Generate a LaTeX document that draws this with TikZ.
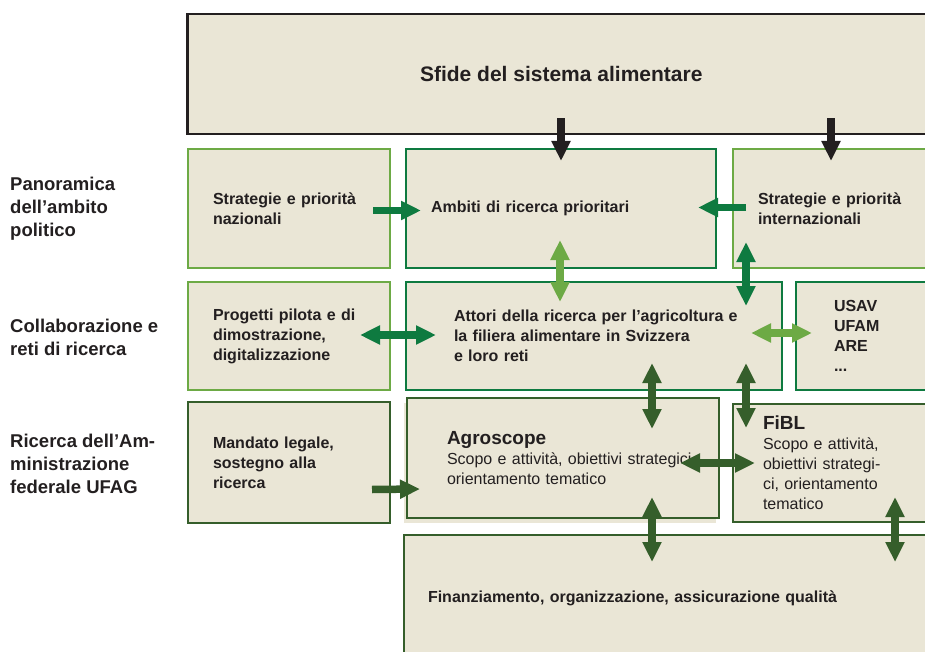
\documentclass[tikz,border=0pt]{standalone}
\usepackage{fontspec}
\setmainfont{Liberation Sans}
\usepackage{xcolor}
\usepackage{tikz}
\usetikzlibrary{arrows.meta, positioning, calc, shadows}

\definecolor{boxfill}{HTML}{EAE6D6}
\definecolor{ink}{HTML}{231F20}
\definecolor{lightgreen}{HTML}{6DAA45}
\definecolor{darkgreen}{HTML}{0E7A40}
\definecolor{olive}{HTML}{355E2B}

\begin{document}
\begin{tikzpicture}[x=1pt, y=-1pt,
    panel/.style={rectangle, draw=#1, line width=2pt, fill=boxfill, text=ink, align=left, inner ysep=0pt, font=\bfseries\fontsize{16}{20}\selectfont},
    panel/.default=darkgreen,
    lane/.style={anchor=west, align=left, inner sep=0pt, text=ink, font=\bfseries\fontsize{18.5}{23}\selectfont},
    arrow/.style={draw=#1, line width=7.5pt, -{Triangle[length=20pt, width=18pt]}},
    twoway/.style={draw=#1, line width=7.5pt, {Triangle[length=20pt, width=18pt]}-{Triangle[length=20pt, width=18pt]}}
]
    \useasboundingbox (0,0) rectangle (925,652);
    \clip (0,0) rectangle (925,652);

    % Row labels
    \node[lane] (politica) at (10,209) {Panoramica\\dell’ambito\\politico};
    \node[lane] (reti) at (10,337) {Collaborazione e\\reti di ricerca};
    \node[lane] (ufag) at (10,464) {Ricerca dell’Am-\\ministrazione\\federale UFAG};

    % Boxes
    \node[panel=ink, anchor=north west, line width=2.5pt, minimum width=748pt, minimum height=120pt, align=center, font=\bfseries\fontsize{21}{25}\selectfont] (sfide) at (186,13) {Sfide del sistema alimentare};

    \node[panel=lightgreen, anchor=north west, minimum width=202pt, minimum height=119pt, text width=152pt, inner xsep=25pt] (naz) at (187,148) {Strategie e priorità\\nazionali};
    \node[panel=darkgreen, right=14pt of naz, minimum width=310pt, minimum height=119pt, text width=260pt, inner xsep=25pt] (amb) {Ambiti di ricerca prioritari};
    \node[panel=lightgreen, right=15pt of amb, minimum width=196pt, minimum height=119pt, text width=146pt, inner xsep=25pt] (intl) {Strategie e priorità\\internazionali};

    \node[panel=lightgreen, below=12pt of naz, minimum width=202pt, minimum height=108pt, text width=152pt, inner xsep=25pt] (prog) {Progetti pilota e di\\dimostrazione,\\digitalizzazione};
    \node[panel=darkgreen, right=14pt of prog, minimum width=376pt, minimum height=108pt, text width=280pt, inner xsep=48pt] (attori) {\mbox{Attori della ricerca per l’agricoltura e}\\la filiera alimentare in Svizzera\\e loro reti};
    \node[panel=darkgreen, right=12pt of attori, minimum width=140pt, minimum height=108pt, text width=64pt, inner xsep=38pt] (usav) {USAV\\UFAM\\ARE\\...};

    \node[panel=olive, below=10pt of prog, minimum width=202pt, minimum height=121pt, text width=152pt, inner xsep=25pt] (mand) {Mandato legale,\\sostegno alla\\ricerca};
    \node[panel=olive, anchor=north west, minimum width=312pt, minimum height=120pt, text width=232pt, inner xsep=40pt,
          general shadow={fill=boxfill, draw=none, shadow xshift=-3pt, shadow yshift=-5pt}] (agro) at (406,397)
          {{\fontsize{19}{21}\selectfont Agroscope}\\\mdseries\mbox{Scopo e attività, obiettivi strategici,}\\orientamento tematico};
    \node[panel=olive, anchor=north west, minimum width=203pt, minimum height=118pt, text width=143pt, inner xsep=30pt] (fibl) at (732,403)
          {{\fontsize{19}{21}\selectfont FiBL}\\\mdseries Scopo e attività,\\obiettivi strategi-\\ci, orientamento\\tematico};

    \node[panel=olive, anchor=north west, minimum width=532pt, minimum height=126pt, text width=484pt, inner xsep=24pt] (fin) at (403,534) {Finanziamento, organizzazione, assicurazione qualità};

    % Arrows
    \draw[arrow=ink] ($(sfide.south -| amb.north)+(0,-17)$) -- ($(amb.north)+(0,13)$);
    \draw[arrow=ink] ($(sfide.south -| intl.north)+(0,-17)$) -- ($(intl.north)+(0,13)$);
    \draw[arrow=darkgreen] ($(naz.east)+(-18,2)$) -- ($(amb.west)+(16,2)$);
    \draw[arrow=darkgreen] ($(intl.west)+(14,-1)$) -- ($(amb.east)+(-19,-1)$);
    \draw[twoway=lightgreen] ($(amb.south)+(-1,-29)$) -- ($(attori.north -| amb.south)+(-1,21)$);
    \draw[twoway=darkgreen] ($(intl.south west)+(14,-27)$) -- ($(attori.north -| intl.south west)+(14,25)$);
    \draw[twoway=darkgreen] ($(prog.east)+(-31,-1)$) -- ($(attori.west)+(31,-1)$);
    \draw[twoway=lightgreen] ($(attori.east)+(-32,-3)$) -- ($(usav.west)+(17,-3)$);
    \draw[twoway=olive] ($(attori.south -| agro.north east)+(-68,-28)$) -- ($(agro.north east)+(-68,32)$);
    \draw[twoway=olive] ($(attori.south -| fibl.north west)+(14,-28)$) -- ($(fibl.north west)+(14,25)$);
    \draw[twoway=olive] ($(agro.east)+(-40,5)$) -- ($(fibl.west)+(23,0)$);
    \draw[twoway=olive] ($(agro.south east)+(-68,-22)$) -- ($(fin.north -| agro.south east)+(-68,28)$);
    \draw[twoway=olive] ($(fibl.south west)+(163,-26)$) -- ($(fin.north -| fibl.south west)+(163,28)$);
    \draw[arrow=olive] ($(mand.east)+(-19,27)$) -- ($(agro.west)+(14,31)$);
\end{tikzpicture}
\end{document}
